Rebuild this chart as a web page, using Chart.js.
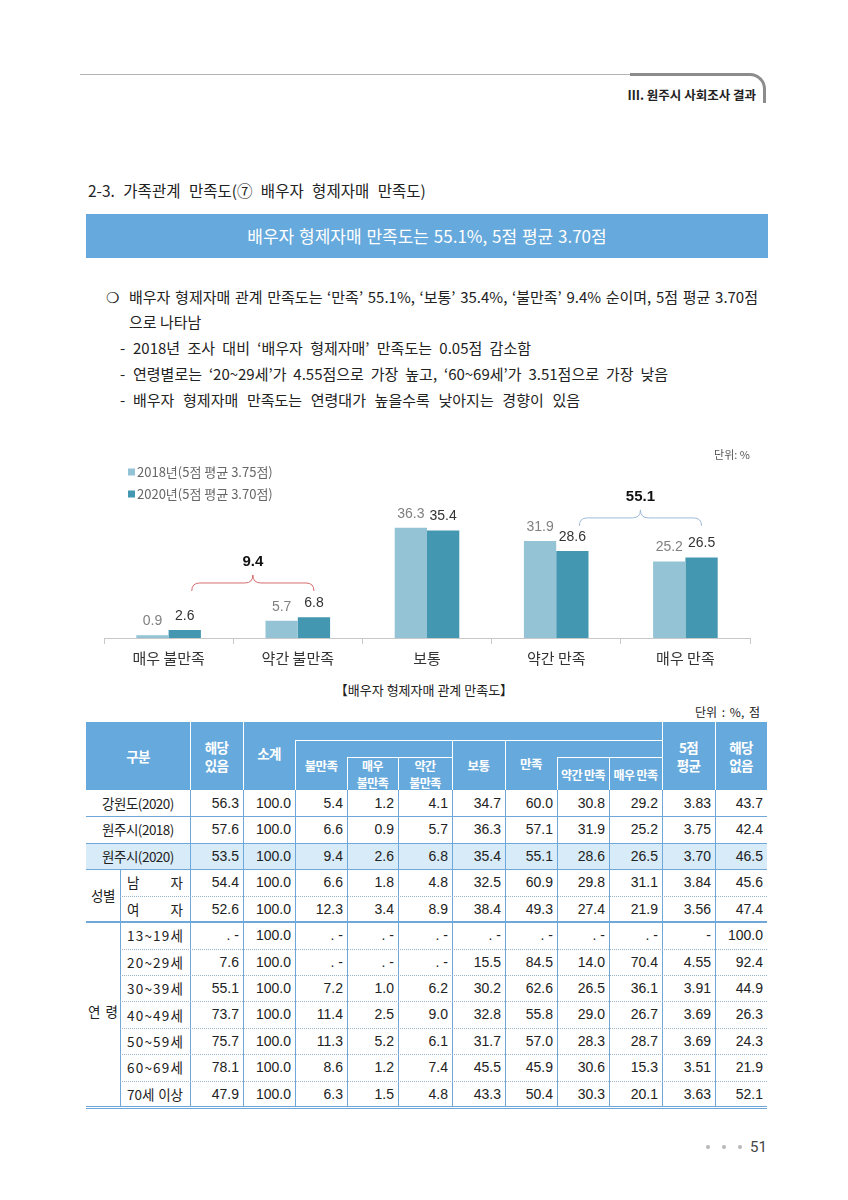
<!DOCTYPE html>
<html><head><meta charset="utf-8">
<script src="https://cdn.jsdelivr.net/npm/chart.js@4.4.1/dist/chart.umd.min.js"></script>
<style>
body{margin:0;width:848px;height:1200px;position:relative;background:#fff;font-family:"Noto Sans CJK KR","Noto Sans",sans-serif;color:#222;overflow:hidden}
.a{position:absolute;white-space:nowrap}
.j{text-align:justify;text-align-last:justify}
.hd{position:absolute;color:#fff;font-weight:bold;font-size:12.5px;line-height:18px;text-align:center;display:flex;align-items:center;justify-content:center;letter-spacing:-0.6px}
.wl{position:absolute;background:#fff}
.cell{position:absolute;box-sizing:border-box;text-align:right;padding-right:4px;font-family:"Liberation Sans Narrow","Liberation Sans",sans-serif;font-size:14px;color:#222;white-space:nowrap}
.lab{position:absolute;box-sizing:border-box;font-size:13.5px;color:#222;letter-spacing:-0.5px;white-space:nowrap}
.fl{display:flex;justify-content:space-between;align-items:center;letter-spacing:0}
.ln{position:absolute}
</style></head><body>

<!-- page header -->
<div class="a" style="left:80px;top:74px;width:552px;height:1px;background:#b4b4b4"></div>
<div class="a" style="left:630px;top:73px;width:133px;height:27px;border-top:3px solid #8c8c8c;border-right:3px solid #8c8c8c;border-top-right-radius:16px"></div>
<div class="a" style="right:92px;top:86px;font-size:12.5px;font-weight:bold;color:#222;line-height:18px">Ⅲ. 원주시 사회조사 결과</div>

<div class="a" style="left:88px;top:180px;font-size:15.5px;line-height:20px;color:#222;word-spacing:5px">2-3. 가족관계 만족도(⑦ 배우자 형제자매 만족도)</div>

<div class="a" style="left:86px;top:214px;width:682px;height:44px;background:#66a9dc;color:#fff;font-size:17px;line-height:44px;text-align:center;word-spacing:1px">배우자 형제자매 만족도는 55.1%, 5점 평균 3.70점</div>

<div class="a" style="left:106px;top:286px;font-size:15px;line-height:22px">❍</div>
<div class="a j" style="left:129px;top:286px;width:629px;font-size:15px;line-height:22px">배우자 형제자매 관계 만족도는 ‘만족’ 55.1%, ‘보통’ 35.4%, ‘불만족’ 9.4% 순이며, 5점 평균 3.70점</div>
<div class="a" style="left:129px;top:311px;font-size:15px;line-height:22px">으로 나타남</div>
<div class="a" style="left:120px;top:337px;font-size:15px;line-height:22px">-</div>
<div class="a j" style="left:133px;top:337px;width:398px;font-size:15px;line-height:22px">2018년 조사 대비 ‘배우자 형제자매’ 만족도는 0.05점 감소함</div>
<div class="a" style="left:120px;top:363px;font-size:15px;line-height:22px">-</div>
<div class="a j" style="left:133px;top:363px;width:535px;font-size:15px;line-height:22px">연령별로는 ‘20~29세’가 4.55점으로 가장 높고, ‘60~69세’가 3.51점으로 가장 낮음</div>
<div class="a" style="left:120px;top:389px;font-size:15px;line-height:22px">-</div>
<div class="a j" style="left:133px;top:389px;width:447px;font-size:15px;line-height:22px">배우자 형제자매 만족도는 연령대가 높을수록 낮아지는 경향이 있음</div>

<canvas id="c" width="668" height="240" style="position:absolute;left:100px;top:440px"></canvas>

<div class="a" style="left:0;width:848px;top:681px;text-align:center;font-size:13px;line-height:18px;color:#222">【배우자 형제자매 관계 만족도】</div>
<div class="a" style="right:88px;top:703px;font-size:12px;line-height:18px;color:#222;word-spacing:2px">단위 : %, 점</div>

<div id="tbl"></div>

<div class="a" style="left:706px;top:1145px;width:4px;height:4px;border-radius:2px;background:#b8b8b8"></div>
<div class="a" style="left:722px;top:1145px;width:4px;height:4px;border-radius:2px;background:#b8b8b8"></div>
<div class="a" style="left:738px;top:1145px;width:4px;height:4px;border-radius:2px;background:#b8b8b8"></div>
<div class="a" style="left:750px;top:1137px;font-size:15px;line-height:20px;color:#444;font-family:'Roboto',sans-serif">51</div>

<script>
// ---------- chart data ----------
const categories = ['매우 불만족', '약간 불만족', '보통', '약간 만족', '매우 만족'];
const seriesLabels = ['2018년(5점 평균 3.75점)', '2020년(5점 평균 3.70점)'];
const values2018 = [0.9, 5.7, 36.3, 31.9, 25.2];
const values2020 = [2.6, 6.8, 35.4, 28.6, 26.5];
const unitLabel = '단위: %';

// ---------- table data ----------
const rowLabels = ['강원도(2020)', '원주시(2018)', '원주시(2020)', '남 자', '여 자',
  '1 3 ~ 1 9 세', '2 0 ~ 2 9 세', '3 0 ~ 3 9 세', '4 0 ~ 4 9 세', '5 0 ~ 5 9 세', '6 0 ~ 6 9 세', '70세 이상'];
const groupLabels = ['성별', '연 령'];
const rowGangwon2020 = ['56.3','100.0','5.4','1.2','4.1','34.7','60.0','30.8','29.2','3.83','43.7'];
const rowWonju2018   = ['57.6','100.0','6.6','0.9','5.7','36.3','57.1','31.9','25.2','3.75','42.4'];
const rowWonju2020   = ['53.5','100.0','9.4','2.6','6.8','35.4','55.1','28.6','26.5','3.70','46.5'];
const rowMale        = ['54.4','100.0','6.6','1.8','4.8','32.5','60.9','29.8','31.1','3.84','45.6'];
const rowFemale      = ['52.6','100.0','12.3','3.4','8.9','38.4','49.3','27.4','21.9','3.56','47.4'];
const rowAge13       = ['. -','100.0','. -','. -','. -','. -','. -','. -','. -','-','100.0'];
const rowAge20       = ['7.6','100.0','. -','. -','. -','15.5','84.5','14.0','70.4','4.55','92.4'];
const rowAge30       = ['55.1','100.0','7.2','1.0','6.2','30.2','62.6','26.5','36.1','3.91','44.9'];
const rowAge40       = ['73.7','100.0','11.4','2.5','9.0','32.8','55.8','29.0','26.7','3.69','26.3'];
const rowAge50       = ['75.7','100.0','11.3','5.2','6.1','31.7','57.0','28.3','28.7','3.69','24.3'];
const rowAge60       = ['78.1','100.0','8.6','1.2','7.4','45.5','45.9','30.6','15.3','3.51','21.9'];
const rowAge70       = ['47.9','100.0','6.3','1.5','4.8','43.3','50.4','30.3','20.1','3.63','52.1'];
const tableRows = [rowGangwon2020,rowWonju2018,rowWonju2020,rowMale,rowFemale,rowAge13,rowAge20,rowAge30,rowAge40,rowAge50,rowAge60,rowAge70];

// ---------- chart ----------
const FONT = "'Noto Sans CJK KR','Noto Sans',sans-serif";
const NUMFONT = "'Liberation Sans',Arial,sans-serif";
Chart.defaults.font.family = FONT;
const C2018 = '#93c3d5', C2020 = '#4497b1';

const labelPlugin = {
  id: 'valueLabels',
  afterDatasetsDraw(chart) {
    const ctx = chart.ctx;
    ctx.save();
    ctx.textAlign = 'center';
    ctx.textBaseline = 'alphabetic';
    chart.data.datasets.forEach((ds, di) => {
      const meta = chart.getDatasetMeta(di);
      meta.data.forEach((bar, i) => {
        ctx.font = (di === 1 ? '500 ' : '') + '14px ' + NUMFONT;
        ctx.fillStyle = di === 1 ? '#333' : '#808080';
        ctx.fillText(ds.data[i].toFixed(1), bar.x, bar.y - 10);
      });
    });
    ctx.restore();
  }
};

const bracketPlugin = {
  id: 'brackets',
  afterDatasetsDraw(chart, args, opts) {
    const ctx = chart.ctx;
    const meta = chart.getDatasetMeta(1);
    const ys = chart.scales.y;
    opts.items.forEach(b => {
      const x1 = meta.data[b.from].x + 7;
      const x2 = meta.data[b.to].x;
      const xm = (x1 + x2) / 2;
      const y = ys.getPixelForValue(b.level);
      const r = 8;
      ctx.save();
      ctx.strokeStyle = b.color;
      ctx.lineWidth = 1;
      ctx.beginPath();
      ctx.moveTo(x1, y + r);
      ctx.quadraticCurveTo(x1, y, x1 + r, y);
      ctx.lineTo(xm - r, y);
      ctx.quadraticCurveTo(xm, y, xm, y - r);
      ctx.quadraticCurveTo(xm, y, xm + r, y);
      ctx.lineTo(x2 - r, y);
      ctx.quadraticCurveTo(x2, y, x2, y + r);
      ctx.stroke();
      const sum = values2020[b.from] + values2020[b.to];
      ctx.font = 'bold 15px ' + NUMFONT;
      ctx.fillStyle = '#111';
      ctx.textAlign = 'center';
      ctx.textBaseline = 'middle';
      ctx.fillText(sum.toFixed(1), xm, y - 21);
      ctx.restore();
    });
  }
};

const legendPlugin = {
  id: 'sideLegend',
  afterDraw(chart) {
    const ctx = chart.ctx;
    ctx.save();
    ctx.textBaseline = 'middle';
    ctx.textAlign = 'left';
    chart.data.datasets.forEach((ds, i) => {
      const y = 32 + i * 22;
      ctx.fillStyle = ds.backgroundColor;
      ctx.fillRect(28, y - 3.5, 7, 7);
      ctx.fillStyle = '#666';
      ctx.font = '13px ' + FONT;
      ctx.fillText(ds.label, 37, y);
    });
    ctx.font = '11px ' + FONT;
    ctx.fillStyle = '#555';
    ctx.textAlign = 'right';
    ctx.fillText(unitLabel, 650, 15);
    ctx.restore();
  }
};

new Chart(document.getElementById('c'), {
  type: 'bar',
  data: {
    labels: categories,
    datasets: [
      { label: seriesLabels[0], data: values2018, backgroundColor: C2018, categoryPercentage: 0.5, barPercentage: 1.0 },
      { label: seriesLabels[1], data: values2020, backgroundColor: C2020, categoryPercentage: 0.5, barPercentage: 1.0 }
    ]
  },
  options: {
    responsive: false,
    animation: false,
    layout: { padding: { left: 4, right: 18, top: 46, bottom: 8 } },
    plugins: {
      legend: { display: false },
      tooltip: { enabled: false },
      brackets: { items: [
        { from: 0, to: 1, level: 18.1, color: '#d46a6a' },
        { from: 3, to: 4, level: 39.5, color: '#9dbad6' }
      ] }
    },
    scales: {
      x: {
        grid: { display: true, drawOnChartArea: false, tickLength: 6, color: '#c8c8c8', offset: true },
        border: { color: '#c8c8c8' },
        ticks: { color: '#333', font: { size: 15, family: FONT }, padding: 5 }
      },
      y: { display: false, min: 0, max: 50 }
    }
  },
  plugins: [labelPlugin, bracketPlugin, legendPlugin]
});

// ---------- table ----------
(function () {
  const T = document.getElementById('tbl');
  const add = (html) => T.insertAdjacentHTML('beforeend', html);
  const L = 86, R = 767, HT = 722, HB = 790;
  const colX = [86, 190, 243, 295, 347, 398, 452, 505, 557, 609, 662, 715, 767];
  const rowH = (1107 - HB) / 12;
  const BLUE = '#66a9dc', LINE = '#6fa8d8';

  // header
  add(`<div class="a" style="left:${L}px;top:${HT}px;width:${R-L}px;height:${HB-HT}px;background:${BLUE}"></div>`);
  const wl = (x1, y1, x2, y2) => add(`<div class="wl" style="left:${x1}px;top:${y1}px;width:${Math.max(1,x2-x1)}px;height:${Math.max(1,y2-y1)}px"></div>`);
  wl(190, HT, 191, HB); wl(243, HT, 244, HB); wl(662, HT, 663, HB); wl(715, HT, 716, HB);
  wl(295, 740, 662, 741); wl(295, 740, 296, HB);
  wl(347, 757, 452, 758); wl(347, 757, 348, HB); wl(398, 757, 399, HB);
  wl(452, 740, 453, HB); wl(505, 740, 506, HB);
  wl(557, 757, 662, 758); wl(557, 757, 558, HB); wl(609, 757, 610, HB);
  const hd = (x1, y1, x2, y2, t, fs, lh) => add(`<div class="hd" style="left:${x1}px;top:${y1}px;width:${x2-x1}px;height:${y2-y1}px;${fs?'font-size:'+fs+'px;':''}${lh?'line-height:'+lh+'px;':''}">${t}</div>`);
  hd(86, HT, 190, HB, '구분', 13.5);
  hd(190, HT, 243, HB, '해당<br>있음', 13.5);
  hd(243, HT, 295, 784, '소계', 13.5);
  hd(295, 741, 347, HB, '불만족');
  hd(347, 757, 398, HB, '매우<br>불만족', 12, 17);
  hd(398, 757, 452, HB, '약간<br>불만족', 12, 17);
  hd(452, 741, 505, HB, '보통');
  hd(505, 741, 557, 786, '만족');
  hd(557, 760, 609, HB, '약간 만족', 12);
  hd(609, 760, 662, HB, '매우 만족', 12);
  hd(662, HT, 715, HB, '5점<br>평균', 13.5);
  hd(715, HT, 767, HB, '해당<br>없음', 13.5);

  // highlighted row
  add(`<div class="a" style="left:${L}px;top:${HB+2*rowH}px;width:${R-L}px;height:${rowH}px;background:#d8ebf8"></div>`);

  // body cells
  tableRows.forEach((row, r) => {
    const top = HB + r * rowH;
    if (r < 3) {
      add(`<div class="lab" style="left:86px;top:${top}px;width:104px;height:${rowH}px;line-height:${rowH}px;text-align:center">${rowLabels[r]}</div>`);
    } else {
      const spans = rowLabels[r].split(' ').map(p => `<span>${p}</span>`).join('');
      add(`<div class="lab fl" style="left:127px;top:${top}px;width:56px;height:${rowH}px">${spans}</div>`);
    }
    row.forEach((v, c) => {
      add(`<div class="cell" style="left:${colX[c+1]}px;top:${top}px;width:${colX[c+2]-colX[c+1]}px;height:${rowH}px;line-height:${rowH}px">${v}</div>`);
    });
  });
  // group labels
  add(`<div class="lab" style="left:86px;top:${HB+3*rowH}px;width:34px;height:${2*rowH}px;line-height:${2*rowH}px;text-align:center">${groupLabels[0]}</div>`);
  add(`<div class="lab" style="left:86px;top:${HB+5*rowH}px;width:34px;height:${7*rowH-6}px;line-height:${7*rowH-6}px;text-align:center;letter-spacing:0;word-spacing:2px">${groupLabels[1]}</div>`);

  // lines
  const bottom = HB + 12 * rowH;
  for (let i = 1; i < colX.length - 1; i++) {
    add(`<div class="ln" style="left:${colX[i]}px;top:${HB}px;width:1px;height:${bottom-HB}px;background:${LINE}"></div>`);
  }
  add(`<div class="ln" style="left:120px;top:${HB+3*rowH}px;width:1px;height:${9*rowH}px;background:${LINE}"></div>`);
  const hline = (y, x1, style) => add(`<div class="ln" style="left:${x1}px;top:${y}px;width:${R-x1}px;height:0;border-top:${style}"></div>`);
  hline(HB + 1 * rowH, L, `1px solid ${LINE}`);
  hline(HB + 2 * rowH, L, `1px solid ${LINE}`);
  hline(HB + 3 * rowH, L, `1px solid ${LINE}`);
  hline(HB + 4 * rowH, 120, `1px dotted #9ab4cc`);
  hline(HB + 5 * rowH - 1, L, `2px solid ${LINE}`);
  for (let r = 6; r < 12; r++) hline(HB + r * rowH, 120, `1px dotted #9ab4cc`);
  hline(bottom - 1, L, `3px double ${LINE}`);
})();
</script>
</body></html>
